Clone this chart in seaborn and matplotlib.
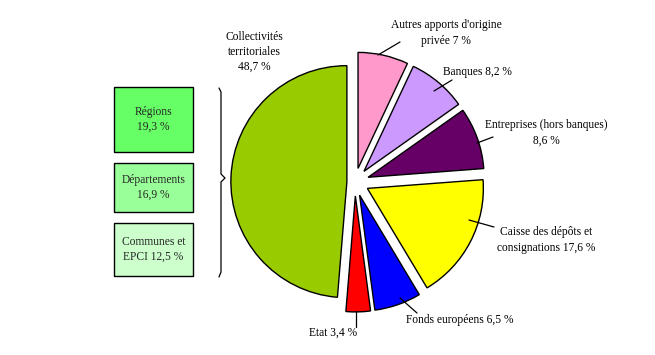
import numpy as np
import matplotlib
matplotlib.use("Agg")
import matplotlib.pyplot as plt
import seaborn as sns

# --- data ---
slice_names = ["Autres apports d'origine\nprivée", "Banques", "Entreprises (hors banques)\n",
               "Caisse des dépôts et\nconsignations", "Fonds européens", "Etat",
               "Collectivités\nterritoriales\n"]
slice_values = [7.0, 8.2, 8.6, 17.6, 6.5, 3.4, 48.7]
slice_colors = ["#FF99CC", "#CC99FF", "#660066", "#FFFF00", "#0000FF", "#FF0000", "#99CC00"]
slice_explode = [0.12, 0.12, 0.12, 0.12, 0.12, 0.12, 0.07]
sub_names = ["Régions", "Départements", "Communes et\nEPCI"]
sub_values = [19.3, 16.9, 12.5]
sub_colors = ["#66FF66", "#99FF99", "#CCFFCC"]

def fr(v):
    s = ("%.1f" % v).replace(".", ",")
    if s.endswith(",0"):
        s = s[:-2]
    return s + " %"

sns.set_theme(style="white")
plt.rcParams["font.family"] = ["Liberation Serif", "DejaVu Serif"]

W, H = 655, 355
fig = plt.figure(figsize=(W / 100, H / 100), dpi=100)
ax = fig.add_axes([0, 0, 1, 1])

R = 116
cx, cy = 355, H - 182
explode = [e * R for e in slice_explode]   # matplotlib offsets in data units
wedges, _ = ax.pie(slice_values, colors=slice_colors, startangle=90, counterclock=False,
                   radius=R, center=(cx, cy), explode=explode,
                   wedgeprops=dict(edgecolor="black", linewidth=1.0))
ax.set_xlim(0, W)
ax.set_ylim(0, H)
ax.set_aspect("equal")
ax.axis("off")

fs = 8.3
def P(x, y):
    return (x, H - y)

# label texts (pixel positions of the label centres)
text_pos = [(446, 33), (477, 72), (546, 133), (546, 240), (460, 320), (333, 333), (254, 52)]
leaders = [((378, 55), (400, 42)), ((434, 91), (452, 80)), ((477, 143), (493, 137)),
           ((469, 220), (494, 227)), ((400, 298), (417, 313)), ((356, 311), (356, 327)), None]
for name, val, tp, ld in zip(slice_names, slice_values, text_pos, leaders):
    if name.endswith("\n"):
        txt = name + fr(val)
    else:
        txt = name + " " + fr(val)
    ax.text(*P(*tp), txt, ha="center", va="center", fontsize=fs, linespacing=1.35, color="black")
    if ld is not None:
        (x0, y0), (x1, y1) = ld
        ax.plot([x0, x1], [H - y0, H - y1], color="black", lw=0.9)

# sub-category boxes
box_y = [(87, 152), (163, 212), (223, 276)]
for name, val, col, (y0, y1) in zip(sub_names, sub_values, sub_colors, box_y):
    rect = plt.Rectangle((114, H - y1), 79, y1 - y0, facecolor=col, edgecolor="black", lw=1.0)
    ax.add_patch(rect)
    sep = " " if "\n" in name else "\n"
    ax.text(153.5, H - (y0 + y1) / 2, name + sep + fr(val), ha="center", va="center",
            fontsize=fs, linespacing=1.35)

# brace
bx = [219, 221, 221, 225, 221, 221, 219]
by = [88, 92, 174, 178, 182, 272, 277]
ax.plot(bx, [H - v for v in by], color="black", lw=0.9)

fig.savefig("out.png", dpi=100, facecolor="white")
